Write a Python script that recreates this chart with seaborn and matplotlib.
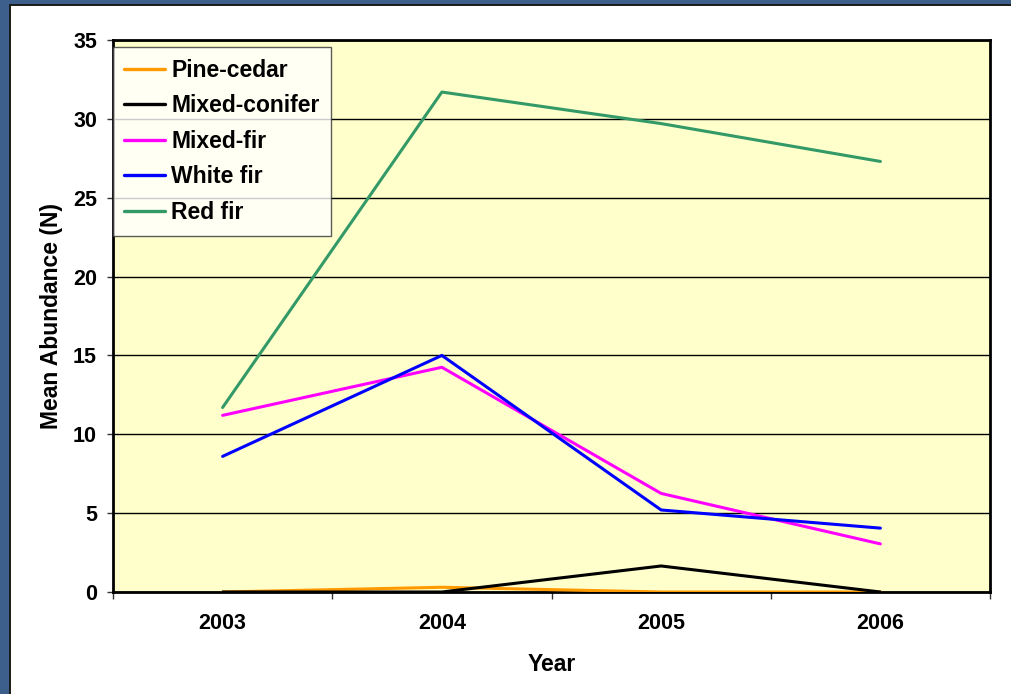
import matplotlib
matplotlib.use("Agg")
import matplotlib.pyplot as plt
from matplotlib.patches import Rectangle
import numpy as np
import pandas as pd
import seaborn as sns

years = [2003, 2004, 2005, 2006]
pine_cedar = [0.0, 0.3, 0.0, 0.0]
mixed_conifer = [0.0, 0.0, 1.65, 0.0]
mixed_fir = [11.2, 14.25, 6.25, 3.05]
white_fir = [8.6, 15.0, 5.2, 4.05]
red_fir = [11.7, 31.7, 29.7, 27.3]

series = {
    "Pine-cedar": pine_cedar,
    "Mixed-conifer": mixed_conifer,
    "Mixed-fir": mixed_fir,
    "White fir": white_fir,
    "Red fir": red_fir,
}
colors = {
    "Pine-cedar": "#FF9900",
    "Mixed-conifer": "#000000",
    "Mixed-fir": "#FF00FF",
    "White fir": "#0000FF",
    "Red fir": "#339966",
}

rows = []
for name, vals in series.items():
    for y, v in zip(years, vals):
        rows.append({"Year": y, "Abundance": v, "Type": name})
df = pd.DataFrame(rows)

sns.set_theme(style="white")
plt.rcParams["font.family"] = ["Liberation Sans", "DejaVu Sans"]
plt.rcParams["font.weight"] = "bold"
for key in ("text.color", "axes.labelcolor", "xtick.labelcolor", "ytick.labelcolor"):
    plt.rcParams[key] = "black"

fig = plt.figure(figsize=(10.12, 6.94), dpi=100)
fig.patch.set_facecolor("#3D5F8C")
# white slide panel with a dark edge, kept behind the axes
panel = Rectangle((10 / 1012, -0.05), 1.1, 1.05 - 5 / 694, transform=fig.transFigure,
                  facecolor="white", edgecolor="#1a1a1a", linewidth=1.4, zorder=-10)
fig.add_artist(panel)

ax = fig.add_axes([113 / 1012, 1 - 592 / 694, 877 / 1012, 552 / 694])
ax.set_zorder(5)
ax.set_facecolor("#FFFFCC")

sns.lineplot(data=df, x="Year", y="Abundance", hue="Type", palette=colors,
             hue_order=list(series.keys()), linewidth=2.2, ax=ax, legend=True,
             zorder=3)

ax.set_xlim(2002.5, 2006.5)
ax.set_ylim(0, 35)
ax.set_yticks(np.arange(0, 36, 5))
ax.set_xticks(years)
ax.set_xticks([2002.5, 2003.5, 2004.5, 2005.5, 2006.5], minor=True)
ax.set_xticklabels([str(y) for y in years], fontsize=15.5, fontweight="bold")
ax.set_yticklabels([str(v) for v in range(0, 36, 5)], fontsize=15.5, fontweight="bold")
ax.tick_params(axis="x", which="major", length=0, pad=15)
ax.tick_params(axis="x", which="minor", length=5, width=1, color="#333333", direction="out", bottom=True)
ax.tick_params(axis="y", length=4.5, width=1, color="#333333", direction="out", left=True, pad=7)

ax.yaxis.grid(True, color="black", linewidth=1.0)
ax.set_axisbelow(True)
for s in ax.spines.values():
    s.set_color("black")
    s.set_linewidth(2.0)

ax.set_xlabel("Year", fontsize=16.5, fontweight="bold", labelpad=14)
ax.set_ylabel("Mean Abundance (N)", fontsize=16.5, fontweight="bold", labelpad=7)

leg = ax.legend(loc="upper left", bbox_to_anchor=(0.0, 0.987), frameon=True, fancybox=False,
                prop={"size": 16.5, "weight": "bold"}, handlelength=1.75, borderaxespad=0,
                labelspacing=0.55, borderpad=0.5, handletextpad=0.3)
leg.get_frame().set_edgecolor("#333333")
leg.get_frame().set_facecolor("white")
leg.get_frame().set_linewidth(1.0)
for line in leg.get_lines():
    line.set_linewidth(2.4)

fig.savefig("out.png", dpi=100, facecolor=fig.get_facecolor())
